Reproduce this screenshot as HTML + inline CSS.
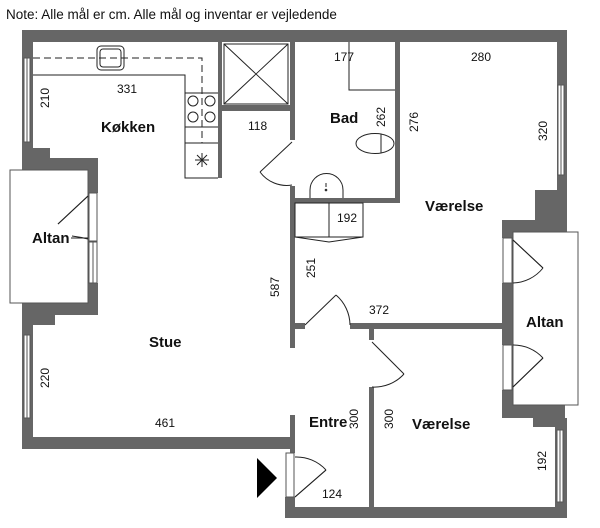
<!DOCTYPE html>
<html><head><meta charset="utf-8"><style>
body{margin:0;background:#fff}
svg{display:block}
text{font-family:"Liberation Sans",sans-serif;fill:#111}
.n{font-size:12px}
.b{font-size:15px;font-weight:bold}
</style></head><body>
<svg width="600" height="528" viewBox="0 0 600 528" xmlns="http://www.w3.org/2000/svg">
<text x="6" y="19" style="font-size:13.5px">Note: Alle mål er cm. Alle mål og inventar er vejledende</text>
<g fill="#666">
<!-- top wall -->
<rect x="22" y="30" width="545" height="12"/>
<!-- left upper -->
<rect x="22" y="30" width="11" height="120"/>
<polygon points="22,143 33,143 33,148 50,148 50,158 98,158 98,193 88,193 88,170 22,170"/>
<polygon points="88,283 98,283 98,315 55,315 55,325 33,325 33,333 22,333 22,303 88,303"/>
<rect x="22" y="325" width="11" height="124"/>
<rect x="22" y="437" width="273" height="12"/>
<!-- right upper -->
<rect x="557" y="30" width="10" height="200"/>
<polygon points="535,190 557,190 557,220 567,220 567,237 513,237 513,238 502,238 502,220 535,220"/>
<rect x="502" y="283" width="11" height="62"/>
<polygon points="502,390 513,390 513,403 565,403 565,427 533,427 533,418 502,418"/>
<rect x="555" y="418" width="12" height="100"/>
<rect x="285" y="507" width="282" height="11"/>
<rect x="285" y="497" width="10" height="21"/>
<!-- interior walls -->
<rect x="218" y="42" width="4" height="136"/>
<rect x="222" y="105" width="70" height="6"/>
<rect x="290" y="42" width="5" height="98"/>
<rect x="290" y="186" width="5" height="162"/>
<rect x="395" y="42" width="5" height="161"/>
<rect x="295" y="198" width="105" height="5"/>
<rect x="290" y="323" width="15" height="6"/>
<rect x="350" y="323" width="152" height="6"/>
<rect x="369" y="329" width="5" height="11"/>
<rect x="369" y="387" width="5" height="121"/>
<rect x="290" y="415" width="5" height="38"/>
</g>
<g fill="#fff" stroke="#555" stroke-width="1">
<!-- windows -->
<rect x="24" y="58" width="6" height="84"/><line x1="27" y1="58" x2="27" y2="142"/>
<rect x="24" y="335" width="6" height="83"/><line x1="27" y1="335" x2="27" y2="418"/>
<rect x="558" y="85" width="6" height="90"/><line x1="561" y1="85" x2="561" y2="175"/>
<rect x="557" y="430" width="6" height="72"/><line x1="560" y1="430" x2="560" y2="502"/>
<rect x="89" y="242" width="8" height="41"/><line x1="93" y1="242" x2="93" y2="283"/>
<!-- balconies -->
<rect x="10" y="170" width="78" height="133"/>
<rect x="513" y="232" width="65" height="173"/>
</g>
<g fill="none" stroke="#222" stroke-width="1">
<!-- kitchen -->
<polyline points="33,75 185,75 185,178 218,178"/>
<line x1="185" y1="93" x2="218" y2="93"/><line x1="185" y1="127" x2="218" y2="127"/><line x1="185" y1="143" x2="218" y2="143"/>
<polyline points="33,58 202,58 202,143" stroke-dasharray="7,4"/>
<rect x="97" y="46" width="27" height="24" rx="4"/><rect x="100" y="49" width="21" height="18" rx="3"/>
<circle cx="193" cy="101" r="5"/><circle cx="210" cy="101" r="5"/><circle cx="193" cy="117" r="5"/><circle cx="210" cy="117" r="5"/>
<path d="M195,160h14M202,153v14M197,155l10,10M207,155l-10,10"/>
<!-- shaft -->
<rect x="224" y="44" width="64" height="60"/><path d="M224,44L288,104M288,44L224,104"/>
<!-- bad -->
<polyline points="349,42 349,90 395,90"/>
<ellipse cx="375" cy="143.5" rx="19" ry="10"/><line x1="381" y1="134" x2="381" y2="153"/>
<path d="M310,198 v-8 a16.5,16.5 0 0 1 33,0 v8"/><circle cx="326" cy="190" r="0.8"/><line x1="326" y1="183" x2="326" y2="187"/>
<!-- cabinet -->
<rect x="295" y="203" width="68" height="34"/><line x1="329" y1="203" x2="329" y2="237"/>
<polyline points="295,237 329,242 363,237"/>
<!-- doors -->
<line x1="292" y1="142" x2="260" y2="172"/><path d="M260,172 A33,33 0 0 0 292,185"/>
<line x1="305" y1="325" x2="336" y2="295"/><path d="M336,295 A40,40 0 0 1 350,325"/>
<line x1="372" y1="342" x2="404" y2="374"/><path d="M404,374 A40,40 0 0 1 372,387"/>
<line x1="295" y1="497" x2="326" y2="470"/><path d="M326,470 A40,40 0 0 0 295,457"/>
<line x1="88" y1="196" x2="58" y2="224"/><path d="M71,238 Q80,238 88,238"/>
<line x1="513" y1="240" x2="543" y2="268"/><path d="M543,268 A40,40 0 0 1 513,283"/>
<line x1="513" y1="387" x2="543" y2="358"/><path d="M543,358 A40,40 0 0 0 513,345"/>
</g>
<g fill="#fff" stroke="#555" stroke-width="1">
<rect x="89" y="193" width="8" height="48"/>
<rect x="503" y="238" width="9" height="45"/>
<rect x="503" y="345" width="9" height="45"/>
<rect x="286" y="453" width="8" height="44"/>
</g>
<g fill="none" stroke="#222"><line x1="88" y1="196" x2="58" y2="224"/><path d="M72,236 Q80,237 88,239"/><line x1="513" y1="240" x2="543" y2="268"/><line x1="513" y1="387" x2="543" y2="358"/><line x1="295" y1="497" x2="326" y2="470"/></g>
<polygon points="257,458 277,478 257,498" fill="#000"/>
<!-- labels -->
<text class="b" x="101" y="132">Køkken</text>
<text class="b" x="330" y="123">Bad</text>
<text class="b" x="425" y="211">Værelse</text>
<text class="b" x="32" y="243">Altan</text>
<text class="b" x="526" y="327">Altan</text>
<text class="b" x="149" y="347">Stue</text>
<text class="b" x="309" y="427">Entre</text>
<text class="b" x="412" y="429">Værelse</text>
<g class="n">
<text class="n" x="117" y="93">331</text>
<text class="n" x="248" y="130">118</text>
<text class="n" x="334" y="61">177</text>
<text class="n" x="471" y="61">280</text>
<text class="n" x="337" y="222">192</text>
<text class="n" x="369" y="314">372</text>
<text class="n" x="155" y="427">461</text>
<text class="n" x="322" y="498">124</text>
<text class="n" transform="translate(49,98) rotate(-90)" text-anchor="middle">210</text>
<text class="n" transform="translate(385,117) rotate(-90)" text-anchor="middle">262</text>
<text class="n" transform="translate(418,122) rotate(-90)" text-anchor="middle">276</text>
<text class="n" transform="translate(547,131) rotate(-90)" text-anchor="middle">320</text>
<text class="n" transform="translate(315,268) rotate(-90)" text-anchor="middle">251</text>
<text class="n" transform="translate(279,287) rotate(-90)" text-anchor="middle">587</text>
<text class="n" transform="translate(49,378) rotate(-90)" text-anchor="middle">220</text>
<text class="n" transform="translate(358,419) rotate(-90)" text-anchor="middle">300</text>
<text class="n" transform="translate(393,419) rotate(-90)" text-anchor="middle">300</text>
<text class="n" transform="translate(546,461) rotate(-90)" text-anchor="middle">192</text>
</g>
</svg>
</body></html>
